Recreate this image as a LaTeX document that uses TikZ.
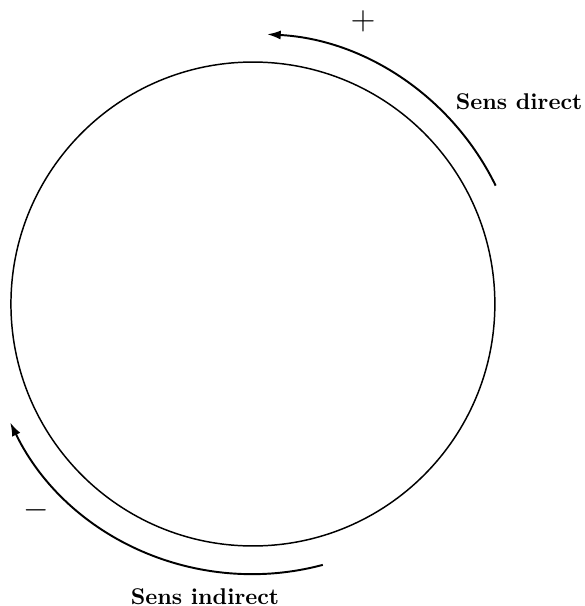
\documentclass[tikz,border=0pt]{standalone}
\usepackage{amsmath,amssymb}
\usepackage{tikz}
\usetikzlibrary{arrows.meta,positioning,calc}

\begin{document}
\begin{tikzpicture}[
  >={Latex[length=6pt,width=4pt]},
  sens/.style={font=\bfseries},
  signe/.style={font=\Large},
  fleche/.style={->, line width=0.85pt}]
\useasboundingbox (-3.905,-4.663) rectangle (5.125,4.694);
\coordinate (O) at (0,0);
\draw[line width=0.65pt] (O) circle (3.736);
% sens direct
\coordinate (D1) at (26:4.17);
\draw[fleche] (D1) arc[start angle=26, end angle=87, radius=4.17];
\node[signe] (plus) at (1.70,4.36) {$+$};
\node[sens] (direct) at (4.11,3.12) {Sens direct};
% sens indirect
\coordinate (I1) at (-75:4.17);
\draw[fleche] (I1) arc[start angle=-75, end angle=-154, radius=4.17];
\node[signe] (moins) at (-3.35,-3.18) {$-$};
\node[sens] (indirect) at (-0.74,-4.52) {Sens indirect};
\end{tikzpicture}
\end{document}
